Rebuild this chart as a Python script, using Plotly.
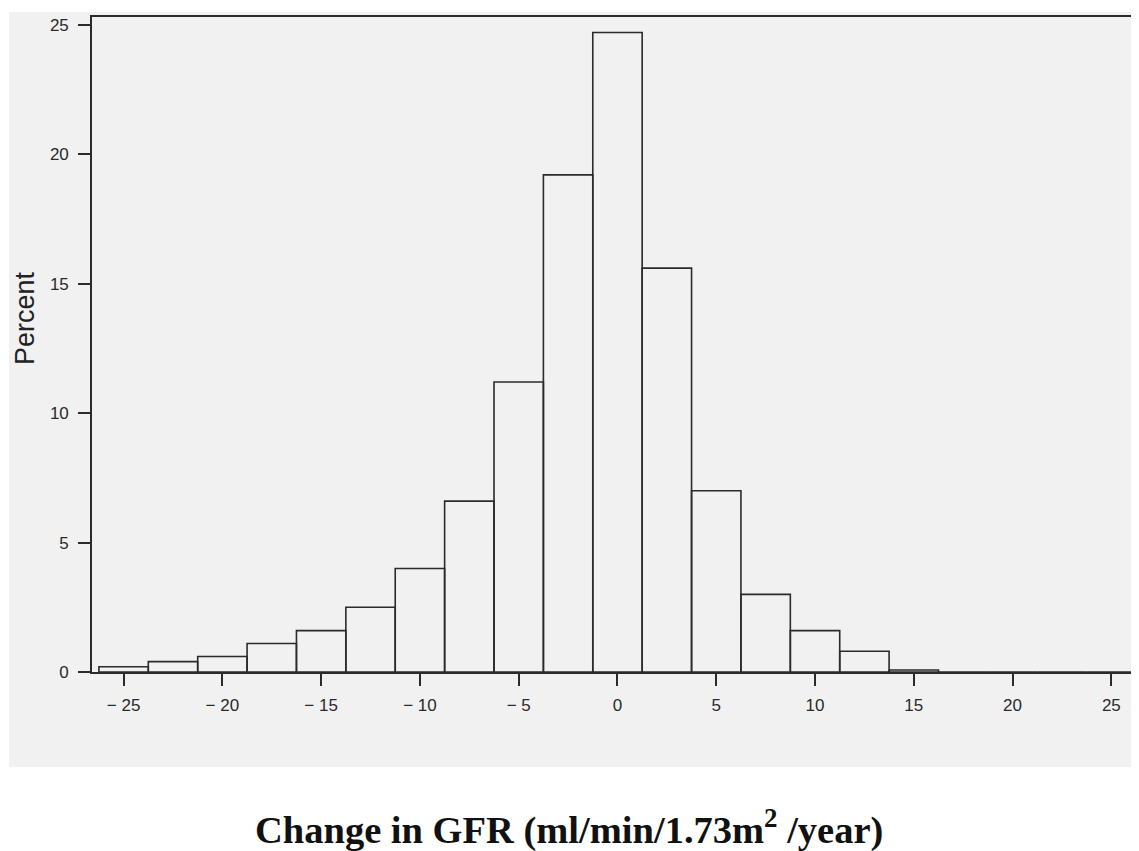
import plotly.graph_objects as go

# Bin centers (width 2.5) and percentages
bin_centers = [-25, -22.5, -20, -17.5, -15, -12.5, -10, -7.5, -5, -2.5, 0, 2.5, 5, 7.5, 10, 12.5, 15, 17.5, 20, 22.5, 25]
percent = [0.2, 0.4, 0.6, 1.1, 1.6, 2.5, 4.0, 6.6, 11.2, 19.2, 24.7, 15.6, 7.0, 3.0, 1.6, 0.8, 0.08, 0, 0, 0, 0]
bin_width = 2.5

x_ticks = [-25, -20, -15, -10, -5, 0, 5, 10, 15, 20, 25]
x_tick_labels = ["\u2212 25", "\u2212 20", "\u2212 15", "\u2212 10", "\u2212 5", "0", "5", "10", "15", "20", "25"]
y_ticks = [0, 5, 10, 15, 20, 25]

line_col = "#2b2b2b"
bg_col = "#f1f1f1"

# page body has an 8px offset; figure coords = screen coords - 8
OFF = 8
W, H = 1139 - OFF, 851 - OFF
L, T = 92 - OFF, 17 - OFF
BOT = 672 - OFF
PW, PH = W - L, BOT - T

def px(xs):
    return (xs - OFF - L) / PW

def py(ys):
    return (BOT - (ys - OFF)) / PH

fig = go.Figure()
fig.add_trace(go.Bar(
    x=bin_centers, y=percent, width=bin_width,
    marker=dict(color="rgba(0,0,0,0)", line=dict(color=line_col, width=1.6)),
    showlegend=False,
))

fig.update_layout(
    width=W, height=H,
    margin=dict(l=L, r=0, t=T, b=H - BOT),
    paper_bgcolor="white",
    plot_bgcolor=bg_col,
    font=dict(family="Liberation Sans, Arial, sans-serif", size=17, color="#2a2a2a"),
    xaxis=dict(
        range=[-26.6, 26.4], tickmode="array", tickvals=x_ticks, ticktext=x_tick_labels,
        showgrid=False, zeroline=False, showline=True, linecolor=line_col, linewidth=1.6,
        mirror=True, ticks="outside", ticklen=12, tickwidth=1.5, tickcolor=line_col,
        ticklabelstandoff=5,
    ),
    yaxis=dict(
        range=[0, 25.3], tickmode="array", tickvals=y_ticks,
        showgrid=False, zeroline=False, showline=True, linecolor=line_col, linewidth=1.6,
        ticks="outside", ticklen=12, tickwidth=1.5, tickcolor=line_col,
        ticklabelstandoff=6,
    ),
    shapes=[dict(
        type="rect", xref="paper", yref="paper", layer="below",
        x0=px(9), x1=1.02, y0=py(767), y1=py(12),
        fillcolor=bg_col, line=dict(width=0),
    )],
    annotations=[
        dict(text="Percent", xref="paper", yref="paper",
             x=px(25), y=py(318), textangle=-90,
             showarrow=False, xanchor="center", yanchor="middle",
             font=dict(size=27, color="#222222")),
        dict(text="Change in GFR (ml/min/1.73m<sup>2</sup> /year)", xref="paper", yref="paper",
             x=px(569), y=py(828),
             showarrow=False, xanchor="center", yanchor="middle",
             font=dict(family="Liberation Serif, Times New Roman, serif", size=38.5, color="#111111",
                       weight="bold")),
    ],
)

fig.write_html("out.html")
